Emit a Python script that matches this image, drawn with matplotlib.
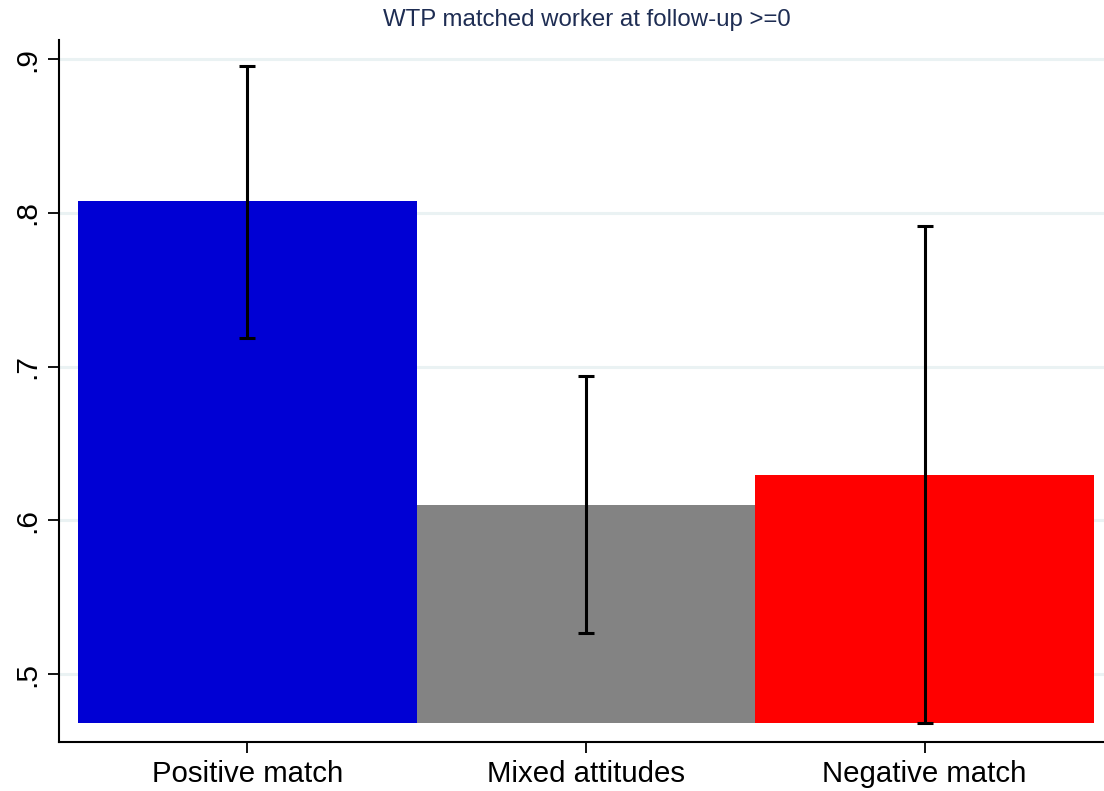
import numpy as np
import matplotlib
matplotlib.use("Agg")
import matplotlib.pyplot as plt

# data
categories = ["Positive match", "Mixed attitudes", "Negative match"]
means = [0.8074, 0.6100, 0.6295]
ci_low = [0.7185, 0.5265, 0.4684]
ci_high = [0.8954, 0.6940, 0.7913]
bar_colors = ["#0000D4", "#838383", "#FF0000"]
yticks = [0.5, 0.6, 0.7, 0.8, 0.9]
ytick_labels = [".5", ".6", ".7", ".8", ".9"]
base = 0.4684

plt.rcParams['font.family'] = ['Liberation Sans', 'DejaVu Sans']

fig = plt.figure(figsize=(11.04, 7.91), dpi=100)
ax = fig.add_axes([0.0537, 0.0623, 0.9463, 0.8871])

x = np.arange(len(categories))
heights = [m - base for m in means]
ax.bar(x, heights, bottom=base, width=1.0, color=bar_colors, zorder=2)

yerr = [[m - lo for m, lo in zip(means, ci_low)],
        [hi - m for m, hi in zip(means, ci_high)]]
ax.errorbar(x, means, yerr=yerr, fmt='none', ecolor='black',
            elinewidth=2.2, capsize=5.6, capthick=2.2, zorder=3)

ax.set_xlim(-0.555, 2.53)
ax.set_ylim(0.456, 0.9124)

ax.set_yticks(yticks)
ax.set_yticklabels(ytick_labels, rotation=90, va='center', fontsize=21.5)
ax.set_xticks(x)
ax.set_xticklabels(categories, fontsize=21.2)

ax.yaxis.grid(True, color='#EAF2F3', linewidth=2.2, zorder=0)
ax.set_axisbelow(True)

for s in ['top', 'right']:
    ax.spines[s].set_visible(False)
for s in ['left', 'bottom']:
    ax.spines[s].set_linewidth(1.5)
    ax.spines[s].set_color('black')

ax.tick_params(axis='both', length=8, width=1.3, color='black')
ax.tick_params(axis='y', pad=5)
ax.tick_params(axis='x', pad=5)

fig.text(0.532, 0.975, "WTP matched worker at follow-up >=0", ha='center',
         va='center', fontsize=17.3, color='#1E2D53')

fig.savefig("out.png", dpi=100)
